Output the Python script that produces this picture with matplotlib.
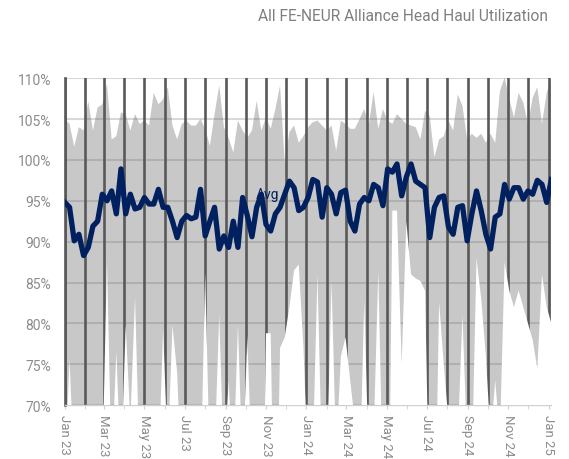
import pandas as pd
import matplotlib
matplotlib.use("Agg")
import matplotlib.pyplot as plt
import matplotlib.dates as mdates
from matplotlib.ticker import FuncFormatter

plt.rcParams['font.family'] = ['Roboto', 'DejaVu Sans']

# weekly data, Jan 2023 - Jan 2025
weeks = pd.date_range('2023-01-01', '2025-01-05', periods=105)

avg = [94.8, 94.2, 90.1, 90.9, 88.3, 89.3, 91.9, 92.5, 95.8, 95.0,
       96.2, 93.4, 98.9, 93.4, 95.8, 94.0, 94.2, 95.4, 94.6, 94.6,
       96.4, 94.2, 94.2, 92.5, 90.5, 92.5, 93.2, 92.8, 93.0, 96.4,
       90.7, 92.5, 94.2, 89.1, 90.7, 89.3, 92.5, 89.3, 95.4, 93.2,
       90.6, 94.2, 95.8, 92.1, 91.3, 93.4, 94.2, 95.8, 97.4, 96.6,
       93.8, 94.2, 95.4, 97.6, 97.3, 93.0, 96.6, 95.8, 93.4, 96.0,
       96.3, 92.5, 91.3, 94.6, 95.4, 95.0, 97.0, 96.6, 94.4, 98.9,
       98.5, 99.5, 95.6, 97.9, 99.5, 97.4, 97.0, 96.6, 90.5, 94.2,
       95.4, 95.6, 91.8, 90.9, 94.2, 94.4, 90.1, 93.4, 96.2, 93.8,
       90.9, 89.1, 93.0, 93.4, 97.0, 95.2, 96.6, 96.6, 95.2, 96.2,
       95.8, 97.5, 97.0, 94.8, 97.6]

upper = [105.0, 104.4, 101.6, 104.0, 103.6, 107.2, 103.6, 106.4, 106.8, 109.3,
         102.5, 102.9, 105.8, 105.6, 103.6, 105.6, 104.4, 104.8, 104.2, 108.2,
         106.8, 107.4, 108.9, 104.2, 102.5, 104.4, 104.8, 104.2, 104.2, 105.0,
         103.8, 101.7, 105.6, 109.1, 104.0, 102.7, 100.9, 104.8, 103.6, 102.7,
         103.6, 107.2, 103.6, 105.2, 103.8, 106.2, 109.1, 99.7, 103.4, 104.2,
         102.1, 102.9, 104.0, 104.6, 104.8, 104.2, 103.6, 104.2, 101.1, 104.8,
         104.4, 103.8, 103.8, 105.0, 106.2, 104.4, 108.3, 103.8, 106.2, 104.8,
         104.4, 105.6, 105.0, 104.4, 104.2, 104.0, 102.5, 106.0, 105.4, 100.3,
         102.5, 102.9, 104.8, 103.6, 108.0, 106.6, 102.5, 103.2, 102.7, 103.2,
         102.1, 103.2, 102.1, 108.4, 110.1, 107.5, 105.2, 108.2, 107.0, 104.4,
         107.6, 108.9, 104.4, 108.2, 109.9]

lower = [62, 75.6, 62, 60, 58, 62, 60, 58, 62, 87.7,
         62, 76.6, 62, 79.8, 68, 83.2, 62, 60, 58, 60,
         62, 79.3, 64, 79.8, 74, 60, 58, 60, 62, 60,
         86.2, 62, 64, 81.1, 62, 73, 62, 79.9, 62, 78.5,
         62, 60, 40, 78.8, 78.8, 45, 77, 78.3, 82, 86.5,
         87.2, 77, 62, 64, 86, 62, 62, 85.2, 64, 76,
         78.3, 73, 68, 60, 82.8, 62, 66, 86.4, 60, 40,
         93.8, 93.8, 75, 92.5, 86, 85.5, 85.2, 84, 55, 50,
         82.6, 75, 68, 62, 66, 81, 65, 62, 88, 83,
         76, 66, 73, 66, 87.5, 84, 82, 84, 82, 80,
         78, 74.5, 86, 82, 80]

y_ticks = [70, 75, 80, 85, 90, 95, 100, 105, 110]

grid_dark = '#595959'
label_grey = '#8c8c8c'
navy = '#002060'

fig = plt.figure(figsize=(5.69, 4.60), dpi=100)
ax = fig.add_axes([0.114, 0.117, 0.855, 0.711])

# gray range band, then white below the minimum
ax.fill_between(weeks, 0, upper, color='#c8c8c8', lw=0, zorder=1)
for yt in y_ticks:
    ax.axhline(yt, color=(0.45, 0.45, 0.45, 0.28), lw=1.5, zorder=1.5)
months = pd.date_range('2023-01-01', '2025-01-01', freq='MS')
for m in months:
    ax.axvline(m, color=grid_dark, lw=1.9, zorder=2)
ax.fill_between(weeks, 0, lower, color='white', lw=0, zorder=3)

ax.plot(weeks, avg, color=navy, lw=3.8, solid_joinstyle='round', zorder=5)
ax.text(pd.Timestamp('2023-10-17'), 95.8, 'Avg', color=navy, fontsize=10,
        ha='left', va='center', zorder=4)

ax.set_ylim(70, 110)
ax.set_xlim(weeks[0], weeks[-1])
ax.set_yticks(y_ticks)
ax.yaxis.set_major_formatter(FuncFormatter(lambda v, p: f'{v:.0f}%'))
ax.xaxis.set_major_locator(mdates.MonthLocator(bymonth=[1, 3, 5, 7, 9, 11]))
ax.xaxis.set_minor_locator(mdates.MonthLocator())
ax.xaxis.set_major_formatter(mdates.DateFormatter('%b %y'))
plt.setp(ax.get_xticklabels(), rotation=-90, ha='center', va='top')

ax.tick_params(axis='y', length=0, labelsize=10, labelcolor=label_grey, pad=10)
ax.tick_params(axis='x', which='both', length=3, color='#d0d0d0', labelsize=9.5,
               labelcolor=label_grey, pad=3)

for s in ['top', 'right']:
    ax.spines[s].set_visible(False)
ax.spines['left'].set_color(grid_dark)
ax.spines['left'].set_linewidth(1.9)
ax.spines['bottom'].set_color('#d0d0d0')
ax.spines['bottom'].set_linewidth(1)

fig.text(0.963, 0.965, 'All FE-NEUR Alliance Head Haul Utilization', color='#7f7f7f',
         fontsize=11.2, ha='right', va='center')

fig.savefig('out.png', dpi=100)
